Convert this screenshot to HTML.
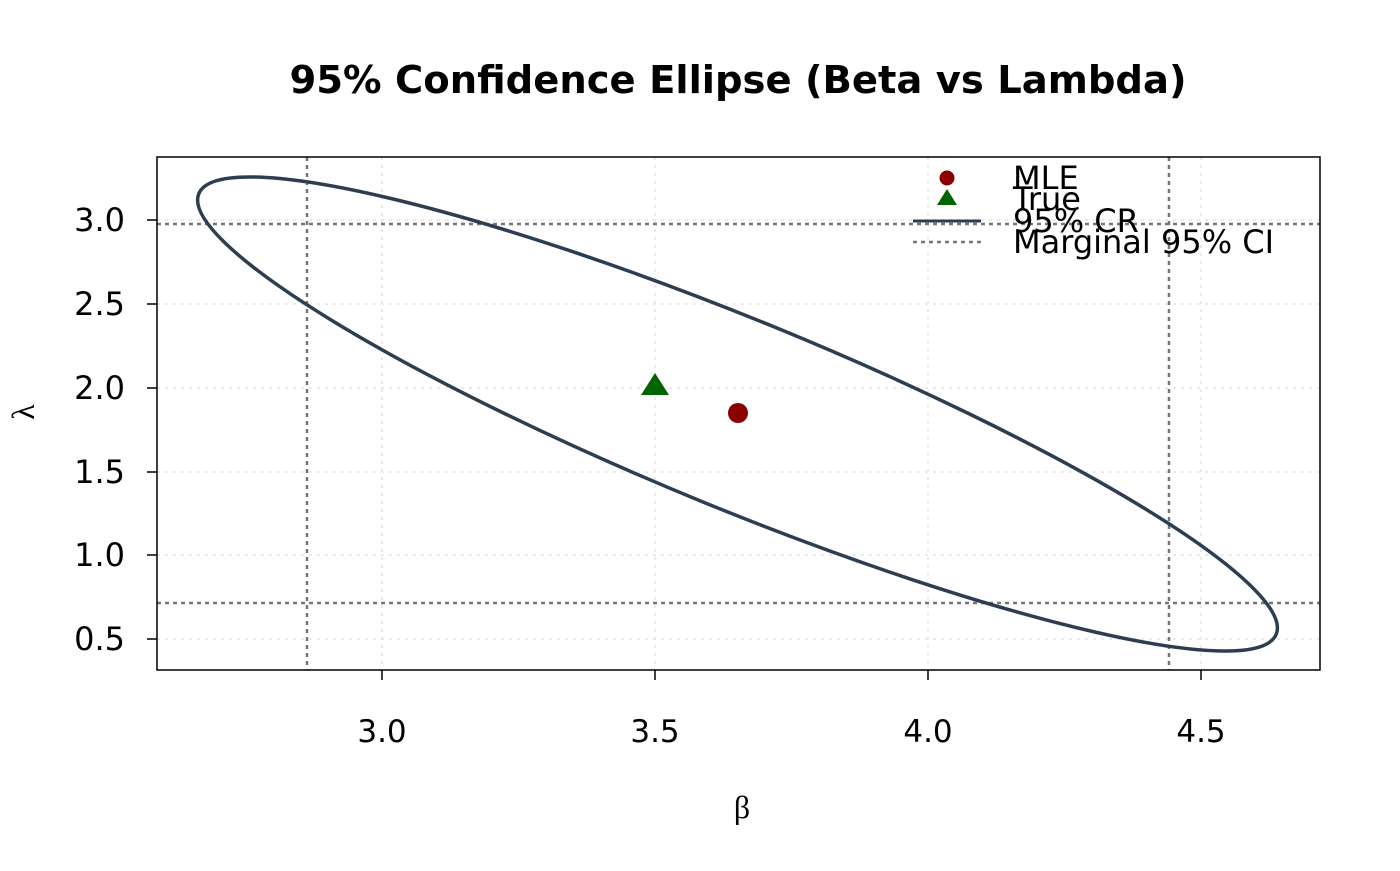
<!DOCTYPE html>
<html><head><style>body{margin:0;background:#fff}</style></head><body>
<svg width="1400" height="866" xmlns="http://www.w3.org/2000/svg" font-family="DejaVu Sans, Liberation Sans, sans-serif">
<rect width="1400" height="866" fill="#fff"/>
<text x="738" y="93" font-size="38.5" font-weight="bold" text-anchor="middle">95% Confidence Ellipse (Beta vs Lambda)</text>
<g stroke="#e3e3e3" stroke-width="1.5" stroke-dasharray="3,5">
<line x1="382" y1="157" x2="382" y2="670"/><line x1="655" y1="157" x2="655" y2="670"/><line x1="928" y1="157" x2="928" y2="670"/><line x1="1201" y1="157" x2="1201" y2="670"/>
<line x1="157" y1="220" x2="1320" y2="220"/><line x1="157" y1="304" x2="1320" y2="304"/><line x1="157" y1="388" x2="1320" y2="388"/><line x1="157" y1="472" x2="1320" y2="472"/><line x1="157" y1="555" x2="1320" y2="555"/><line x1="157" y1="639" x2="1320" y2="639"/>
</g>
<g stroke="#777" stroke-width="2.5" stroke-dasharray="4,4">
<line x1="307" y1="157" x2="307" y2="670"/><line x1="1169" y1="157" x2="1169" y2="670"/>
<line x1="157" y1="224" x2="1320" y2="224"/><line x1="157" y1="603" x2="1320" y2="603"/>
</g>
<ellipse cx="737.5" cy="414" rx="582" ry="94.5" transform="rotate(22.24 737.5 414)" fill="none" stroke="#2c3e50" stroke-width="3.5"/>
<circle cx="738" cy="413" r="10" fill="#8b0000"/>
<polygon points="655,373 669,395 641,395" fill="#006400"/>
<rect x="157" y="157" width="1163" height="513" fill="none" stroke="#000" stroke-width="1.5"/>
<g stroke="#000" stroke-width="1.5">
<line x1="382" y1="670" x2="382" y2="680"/><line x1="655" y1="670" x2="655" y2="680"/><line x1="928" y1="670" x2="928" y2="680"/><line x1="1201" y1="670" x2="1201" y2="680"/>
<line x1="147" y1="220" x2="157" y2="220"/><line x1="147" y1="304" x2="157" y2="304"/><line x1="147" y1="388" x2="157" y2="388"/><line x1="147" y1="472" x2="157" y2="472"/><line x1="147" y1="555" x2="157" y2="555"/><line x1="147" y1="639" x2="157" y2="639"/>
</g>
<g font-size="31" text-anchor="middle">
<text x="382" y="742">3.0</text><text x="655" y="742">3.5</text><text x="928" y="742">4.0</text><text x="1201" y="742">4.5</text>
</g>
<g font-size="32" text-anchor="end">
<text x="125" y="231">3.0</text><text x="125" y="315">2.5</text><text x="125" y="399">2.0</text><text x="125" y="483">1.5</text><text x="125" y="566">1.0</text><text x="125" y="650">0.5</text>
</g>
<text x="742" y="818" font-size="32" text-anchor="middle" font-family="Liberation Serif, serif">β</text>
<text x="34" y="412" font-size="32" text-anchor="middle" font-family="Liberation Serif, serif" transform="rotate(-90 34 412)">λ</text>
<circle cx="947" cy="178" r="7.5" fill="#8b0000"/>
<polygon points="947,189 957,205 937,205" fill="#006400"/>
<line x1="913" y1="221" x2="981" y2="221" stroke="#2c3e50" stroke-width="3"/>
<line x1="913" y1="242" x2="981" y2="242" stroke="#777" stroke-width="2.5" stroke-dasharray="4,4"/>
<g font-size="32">
<text x="1013" y="189">MLE</text><text x="1013" y="210">True</text><text x="1013" y="232">95% CR</text><text x="1013" y="253">Marginal 95% CI</text>
</g>
</svg>
</body></html>
